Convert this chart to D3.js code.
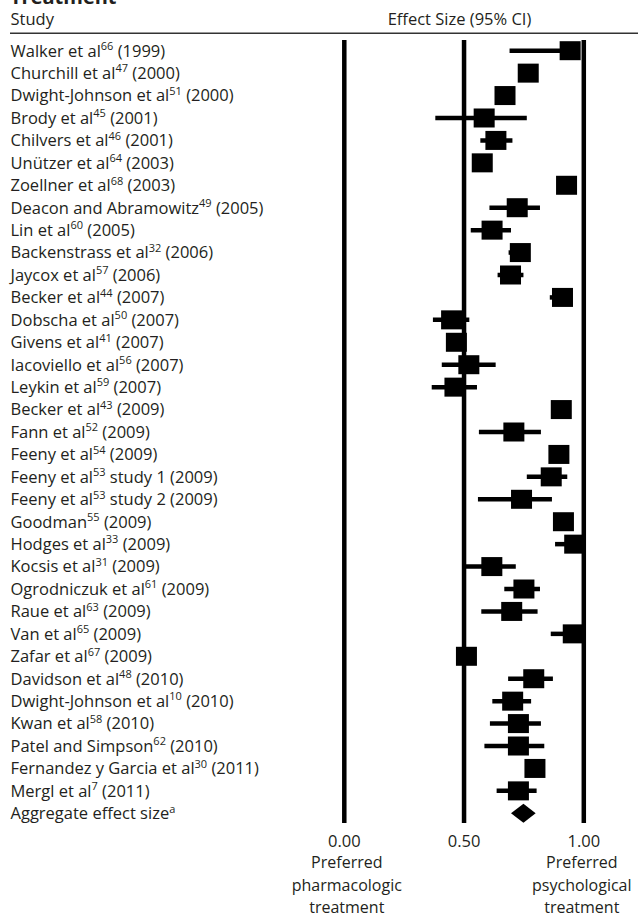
<!DOCTYPE html>
<html>
<head>
<meta charset="utf-8">
<script src="https://cdn.jsdelivr.net/npm/d3@7"></script>
<style>
  html, body { margin: 0; padding: 0; background: #fff; }
  svg { display: block; }
  text { font-family: "Open Sans", "Noto Sans", sans-serif; fill: #231f20; }
</style>
</head>
<body>
<svg id="chart" width="638" height="916"></svg>
<script>
// ---- Data ----
const studyNames = [
  "Walker et al", "Churchill et al", "Dwight-Johnson et al", "Brody et al", "Chilvers et al",
  "Unützer et al", "Zoellner et al", "Deacon and Abramowitz", "Lin et al", "Backenstrass et al",
  "Jaycox et al", "Becker et al", "Dobscha et al", "Givens et al", "Iacoviello et al",
  "Leykin et al", "Becker et al", "Fann et al", "Feeny et al", "Feeny et al",
  "Feeny et al", "Goodman", "Hodges et al", "Kocsis et al", "Ogrodniczuk et al",
  "Raue et al", "Van et al", "Zafar et al", "Davidson et al", "Dwight-Johnson et al",
  "Kwan et al", "Patel and Simpson", "Fernandez y Garcia et al", "Mergl et al", "Aggregate effect size"
];
const studyRefs = [
  "66", "47", "51", "45", "46", "64", "68", "49", "60", "32",
  "57", "44", "50", "41", "56", "59", "43", "52", "54", "53",
  "53", "55", "33", "31", "61", "63", "65", "67", "48", "10",
  "58", "62", "30", "7", "a"
];
const studySuffix = [
  " (1999)", " (2000)", " (2000)", " (2001)", " (2001)", " (2003)", " (2003)", " (2005)", " (2005)", " (2006)",
  " (2006)", " (2007)", " (2007)", " (2007)", " (2007)", " (2007)", " (2009)", " (2009)", " (2009)", " study 1 (2009)",
  " study 2 (2009)", " (2009)", " (2009)", " (2009)", " (2009)", " (2009)", " (2009)", " (2009)", " (2010)", " (2010)",
  " (2010)", " (2010)", " (2011)", " (2011)", ""
];
const effect = [
  0.943, 0.768, 0.671, 0.584, 0.633, 0.576, 0.928, 0.722, 0.617, 0.735,
  0.694, 0.911, 0.448, 0.468, 0.520, 0.462, 0.906, 0.708, 0.896, 0.864,
  0.740, 0.915, 0.962, 0.616, 0.750, 0.699, 0.956, 0.510, 0.791, 0.703,
  0.727, 0.727, 0.796, 0.727, 0.748
];
const ciLow = [
  0.690, 0.750, 0.650, 0.380, 0.568, 0.560, 0.910, 0.606, 0.528, 0.686,
  0.640, 0.858, 0.370, 0.450, 0.407, 0.365, 0.890, 0.562, 0.880, 0.762,
  0.558, 0.900, 0.880, 0.500, 0.668, 0.572, 0.862, 0.490, 0.684, 0.618,
  0.608, 0.585, 0.780, 0.636, 0.696
];
const ciHigh = [
  0.970, 0.790, 0.690, 0.762, 0.702, 0.590, 0.950, 0.817, 0.696, 0.760,
  0.748, 0.930, 0.522, 0.490, 0.632, 0.554, 0.920, 0.821, 0.910, 0.931,
  0.867, 0.930, 0.990, 0.716, 0.817, 0.807, 0.990, 0.530, 0.871, 0.780,
  0.821, 0.835, 0.810, 0.803, 0.799
];
const tickValues = [0, 0.5, 1];
const tickLabels = ["0.00", "0.50", "1.00"];
const leftNote = ["Preferred", "pharmacologic", "treatment"];
const rightNote = ["Preferred", "psychological", "treatment"];
const titleText = "Treatment";
const colStudy = "Study";
const colEffect = "Effect Size (95% CI)";

// ---- Layout ----
const svg = d3.select("#chart");
const fontSize = 16.5;

const x = d3.scaleLinear().domain([0, 1]).range([344.3, 583.8]);
const rows = d3.range(studyNames.length);
const y = d3.scalePoint().domain(rows).range([50.7, 813.3]);
const lastIdx = studyNames.length - 1;

// Title (cut off at top)
svg.append("text").attr("x", 10).attr("y", 3.5)
  .style("font-size", "20px").style("font-weight", "bold").text(titleText);

// Column headers
svg.append("text").attr("x", 10.5).attr("y", 25).style("font-size", fontSize + "px").text(colStudy);
svg.append("text").attr("x", 459.5).attr("y", 25).attr("text-anchor", "middle")
  .style("font-size", fontSize + "px").text(colEffect);

svg.append("line").attr("x1", 10).attr("x2", 638).attr("y1", 33.3).attr("y2", 33.3)
  .attr("stroke", "#333").attr("stroke-width", 1.5);

// Study labels
const labels = svg.append("g").selectAll("text").data(rows).join("text")
  .attr("x", 10.5).attr("y", d => y(d) + 5.8)
  .style("font-size", fontSize + "px");
labels.append("tspan").text(d => studyNames[d]);
labels.append("tspan").attr("dy", -6.5).style("font-size", "11px").text(d => studyRefs[d]);
labels.append("tspan").attr("dy", 6.5).text(d => studySuffix[d]);

// Reference vertical lines (0, 0.5, 1)
svg.append("g").selectAll("line").data(tickValues).join("line")
  .attr("x1", d => x(d)).attr("x2", d => x(d))
  .attr("y1", 40).attr("y2", 823)
  .attr("stroke", "#000").attr("stroke-width", 4.5);

// CI lines
const studyRows = rows.slice(0, lastIdx);
svg.append("g").selectAll("line").data(studyRows).join("line")
  .attr("x1", d => x(ciLow[d])).attr("x2", d => x(ciHigh[d]))
  .attr("y1", d => y(d)).attr("y2", d => y(d))
  .attr("stroke", "#000").attr("stroke-width", 4.5);

// Squares
const sqW = 21, sqH = 19;
svg.append("g").selectAll("rect").data(studyRows).join("rect")
  .attr("x", d => x(effect[d]) - sqW / 2).attr("y", d => y(d) - sqH / 2)
  .attr("width", sqW).attr("height", sqH).attr("fill", "#000");

// Aggregate diamond
const ay = y(lastIdx), dh = 9.5;
svg.append("path")
  .attr("d", `M${x(ciLow[lastIdx])},${ay} L${x(effect[lastIdx])},${ay - dh} L${x(ciHigh[lastIdx])},${ay} L${x(effect[lastIdx])},${ay + dh} Z`)
  .attr("fill", "#000");

// Tick labels
svg.append("g").selectAll("text").data(tickValues).join("text")
  .attr("x", d => x(d)).attr("y", 847).attr("text-anchor", "middle")
  .style("font-size", fontSize + "px").text((d, i) => tickLabels[i]);

// End notes
const noteY = [868, 890.5, 912.5];
svg.append("g").selectAll("text").data(leftNote).join("text")
  .attr("x", x(0) + 2.5).attr("y", (d, i) => noteY[i]).attr("text-anchor", "middle")
  .style("font-size", "16px").text(d => d);
svg.append("g").selectAll("text").data(rightNote).join("text")
  .attr("x", x(1) - 2).attr("y", (d, i) => noteY[i]).attr("text-anchor", "middle")
  .style("font-size", "16px").text(d => d);
</script>
</body>
</html>
